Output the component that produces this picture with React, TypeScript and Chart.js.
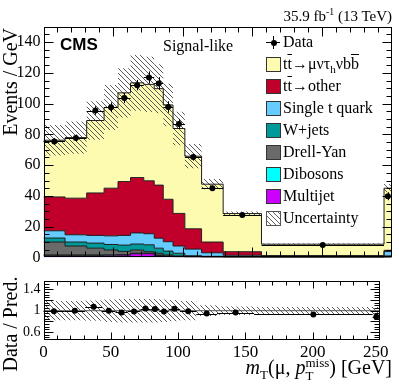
import React, { useEffect, useRef } from "react";
import { Chart, registerables } from "chart.js";
Chart.register(...registerables);

// ---------------- data ----------------
const BIN_EDGES = [0, 15.5, 31, 43.5, 53.5, 62.5, 72, 79.5, 86, 93, 101.5, 113.5, 129, 156.5, 244.5, 250];
const DATA = [75.4, 77.7, 95.5, 97.6, 103.6, 112, 117, 113.1, 97.8, 86.8, 65.2, 45, 27.5, 8, 39.8];
const DATA_ERR = [2.2, 2.2, 2.8, 3.2, 3.3, 3.4, 4.0, 4.1, 3.7, 3.2, 2.3, 1.7, 1.0, 0.3, 2.6];
const TT_SIGNAL = [36.9, 39.4, 47.1, 52.5, 57.7, 61.6, 62.7, 62.7, 61.3, 55.2, 47.2, 37.6, 24.8, 7.4, 40.4];
const TT_OTHER = [22.0, 23.8, 27.6, 31.0, 35.0, 36.0, 34.4, 34.5, 27.6, 21.2, 13.2, 7.0, 2.3, 0.6, 0.8];
const SINGLE_T = [4.7, 4.7, 5.0, 5.6, 6.3, 7.2, 7.2, 6.5, 6.1, 4.7, 4.3, 2.3, 0.9, 0.35, 2.8];
const WJETS = [2.6, 2.6, 3.3, 3.6, 4.1, 3.9, 4.5, 3.3, 2.5, 1.7, 0.5, 0.3, 0.2, 0.1, 0.6];
const DRELL_YAN = [8.4, 5.8, 4.4, 3.1, 2.1, 2.1, 1.0, 1.2, 0.7, 0.4, 0.2, 0.1, 0.1, 0.05, 0.2];
const DIBOSONS = [0.3, 0.3, 0.3, 0.3, 0.3, 0.3, 0.3, 0.3, 0.2, 0.2, 0.1, 0.1, 0.1, 0.05, 0.1];
const MULTIJET = [1.3, 1.3, 1.3, 1.4, 1.5, 2.4, 2.4, 1.2, 0.7, 0.4, 0.3, 0.2, 0.1, 0.05, 0.1];
const UNC_REL = [0.13, 0.135, 0.14, 0.15, 0.15, 0.16, 0.16, 0.145, 0.14, 0.13, 0.12, 0.07, 0.045, 0.05, 0.06];
const RATIO_UNC = [0.18, 0.18, 0.19, 0.21, 0.22, 0.22, 0.22, 0.22, 0.21, 0.2, 0.18, 0.1, 0.08, 0.07, 0.07];

const SERIES_NAMES = ["Multijet", "Dibosons", "Drell-Yan", "W+jets", "Single t quark", "tt→other", "tt→μντhνbb"];
const SERIES_COLORS = ["#cc00ff", "#00ffff", "#6a6a6a", "#009a9a", "#66ccff", "#c0002a", "#fdfbb0"];

const MAIN_Y_TICKS = [0, 20, 40, 60, 80, 100, 120, 140];
const RATIO_Y_TICKS = [0.6, 0.8, 1, 1.2, 1.4];
const X_TICKS = [0, 50, 100, 150, 200, 250];

const SERIF = '"Liberation Serif", "Times New Roman", serif';
const SANS = '"Liberation Sans", Arial, sans-serif';

// ---------------- helpers ----------------
function range(a: number, b: number, step: number) {
  const out: number[] = [];
  for (let v = a; v <= b + 1e-9; v += step) out.push(Math.round(v * 1000) / 1000);
  return out;
}
function steps(values: number[]) {
  return BIN_EDGES.map((e, i) => ({ x: e, y: values[Math.min(i, values.length - 1)] }));
}
function centers() {
  return BIN_EDGES.slice(0, -1).map((e, i) => (e + BIN_EDGES[i + 1]) / 2);
}
function makeHatch(size: number, color: string) {
  const c = document.createElement("canvas");
  c.width = size;
  c.height = size;
  const g = c.getContext("2d")!;
  g.strokeStyle = color;
  g.lineWidth = 1;
  for (let k = -1; k <= 1; k++) {
    g.beginPath();
    g.moveTo(k * size, 0);
    g.lineTo(k * size + size, size);
    g.stroke();
  }
  return g.createPattern(c, "repeat")!;
}

const errBars = {
  id: "errBars",
  afterDatasetsDraw(chart: any, _a: any, opts: any) {
    const { ctx, scales } = chart;
    const x = scales.x, y = scales.y;
    ctx.save();
    ctx.strokeStyle = "#000";
    ctx.lineWidth = 1;
    for (const p of opts.points || []) {
      const px = Math.round(x.getPixelForValue(p.x)) + 0.5;
      const py = Math.round(y.getPixelForValue(p.y)) + 0.5;
      ctx.beginPath();
      ctx.moveTo(x.getPixelForValue(p.xlo), py);
      ctx.lineTo(x.getPixelForValue(p.xhi), py);
      ctx.moveTo(px, y.getPixelForValue(p.ylo));
      ctx.lineTo(px, y.getPixelForValue(p.yhi));
      ctx.stroke();
    }
    ctx.restore();
  },
};

const rootFrame = {
  id: "rootFrame",
  afterDraw(chart: any, _a: any, o: any) {
    const { ctx, chartArea: ca, scales } = chart;
    const x = scales.x, y = scales.y;
    const L = Math.round(ca.left) + 0.5, R = Math.round(ca.right) - 0.5;
    const T = Math.round(ca.top) + 0.5, B = Math.round(ca.bottom) - 0.5;
    ctx.save();
    ctx.strokeStyle = "#000";
    ctx.lineWidth = 1;
    ctx.beginPath();
    const xt = (vals: number[], len: number) => {
      for (const v of vals) {
        const p = Math.round(x.getPixelForValue(v)) + 0.5;
        if (p < L - 0.1 || p > R + 0.1) continue;
        ctx.moveTo(p, B); ctx.lineTo(p, B - len);
        ctx.moveTo(p, T); ctx.lineTo(p, T + len);
      }
    };
    const yt = (vals: number[], len: number) => {
      for (const v of vals) {
        const p = Math.round(y.getPixelForValue(v)) + 0.5;
        if (p < T - 0.1 || p > B + 0.1) continue;
        ctx.moveTo(L, p); ctx.lineTo(L + len, p);
        ctx.moveTo(R, p); ctx.lineTo(R - len, p);
      }
    };
    xt(o.xMajor, o.xLen[0]);
    xt(o.xMinor, o.xLen[1]);
    yt(o.yMajor, o.yLen[0]);
    yt(o.yMinor, o.yLen[1]);
    ctx.stroke();
    ctx.strokeRect(L, T, R - L, B - T);
    ctx.restore();
  },
};

// ---------------- component ----------------
export default function App() {
  const mainRef = useRef<HTMLCanvasElement>(null);
  const ratioRef = useRef<HTMLCanvasElement>(null);

  useEffect(() => {
    const hatch = makeHatch(5, "#5a5a5a");
    const hatch2 = makeHatch(5, "#5a5a5a");
    const comps = [MULTIJET, DIBOSONS, DRELL_YAN, WJETS, SINGLE_T, TT_OTHER, TT_SIGNAL];
    const cum: number[][] = [];
    comps.forEach((c, k) => cum.push(c.map((v, i) => v + (k > 0 ? cum[k - 1][i] : 0))));
    const total = cum[cum.length - 1];
    const ctr = centers();

    const stackSets = [] as any[];
    for (let k = comps.length - 1; k >= 0; k--) {
      stackSets.push({
        label: SERIES_NAMES[k],
        data: steps(cum[k]),
        stepped: "before",
        borderColor: "#1e1e1e",
        borderWidth: 1,
        backgroundColor: SERIES_COLORS[k],
        pointRadius: 0,
        fill: k === 0 ? "origin" : "+1",
      });
    }

    const mainPoints = DATA.map((d, i) => ({
      x: ctr[i], y: d, xlo: BIN_EDGES[i], xhi: BIN_EDGES[i + 1], ylo: d - DATA_ERR[i], yhi: d + DATA_ERR[i],
    }));

    const yAxisBase = (ticks: number[], fontSize: number, min: number, max: number) => ({
      type: "linear",
      min,
      max,
      grid: { display: false, drawTicks: false },
      border: { display: false },
      ticks: { font: { family: SERIF, size: fontSize }, color: "#000", padding: 3, callback: (v: any) => String(v) },
      afterBuildTicks: (s: any) => { s.ticks = ticks.map((v) => ({ value: v })); },
      afterFit: (s: any) => { s.width = 43.5; },
    });

    const main = new Chart(mainRef.current!, {
      type: "line",
      data: {
        datasets: [
          { label: "Data", data: ctr.map((c, i) => ({ x: c, y: DATA[i] })), showLine: false, pointRadius: 3, pointBackgroundColor: "#000", pointBorderWidth: 0, fill: false },
          { label: "unc+", data: steps(total.map((t, i) => t * (1 + UNC_REL[i]))), stepped: "before", borderWidth: 0, pointRadius: 0, backgroundColor: hatch, fill: "+1" },
          { label: "unc-", data: steps(total.map((t, i) => t * (1 - UNC_REL[i]))), stepped: "before", borderWidth: 0, pointRadius: 0, fill: false },
          ...stackSets,
        ],
      },
      options: {
        responsive: false,
        devicePixelRatio: 1,
        animation: false,
        events: [],
        layout: { padding: { left: 0, right: 7.3, top: 26.7, bottom: 7.5 } },
        scales: {
          x: { type: "linear", min: 0, max: 250, display: false },
          y: yAxisBase(MAIN_Y_TICKS, 16, 0, 150) as any,
        },
        plugins: {
          legend: { display: false },
          tooltip: { enabled: false },
          filler: { drawTime: "beforeDatasetsDraw" },
          errBars: { points: mainPoints },
          rootFrame: {
            xMajor: X_TICKS, xMinor: range(0, 250, 10), xLen: [9, 5],
            yMajor: MAIN_Y_TICKS, yMinor: range(0, 150, 5), yLen: [9, 5],
          },
        } as any,
      },
      plugins: [errBars, rootFrame],
    } as any);

    const ratioVals = DATA.map((d, i) => d / total[i]);
    const ratioPoints = ratioVals.map((r, i) => ({
      x: ctr[i], y: r, xlo: BIN_EDGES[i], xhi: BIN_EDGES[i + 1],
      ylo: r - DATA_ERR[i] / total[i], yhi: r + DATA_ERR[i] / total[i],
    }));

    const ratio = new Chart(ratioRef.current!, {
      type: "line",
      data: {
        datasets: [
          { label: "ratio", data: ctr.map((c, i) => ({ x: c, y: ratioVals[i] })), showLine: false, pointRadius: 3, pointBackgroundColor: "#000", pointBorderWidth: 0, fill: false },
          { label: "one", data: [{ x: 0, y: 1 }, { x: 250, y: 1 }], borderColor: "#555", borderWidth: 1, pointRadius: 0, fill: false },
          { label: "band+", data: steps(RATIO_UNC.map((u) => 1 + u)), stepped: "before", borderWidth: 0, pointRadius: 0, backgroundColor: hatch2, fill: "+1" },
          { label: "band-", data: steps(RATIO_UNC.map((u) => 1 - u)), stepped: "before", borderWidth: 0, pointRadius: 0, fill: false },
        ],
      },
      options: {
        responsive: false,
        devicePixelRatio: 1,
        animation: false,
        events: [],
        layout: { padding: { left: 0, right: 7.3, top: 5, bottom: 0 } },
        scales: {
          x: {
            type: "linear",
            min: 0,
            max: 250,
            grid: { display: false, drawTicks: false },
            border: { display: false },
            ticks: {
              font: { family: SERIF, size: 17 },
              color: "#000",
              padding: 2,
              // last label kept inside the frame (shifted left by a trailing figure space)
              callback: (v: any) => (v === 250 ? "250\u2007" : String(v)),
            },
            afterBuildTicks: (s: any) => { s.ticks = X_TICKS.map((v) => ({ value: v })); },
            afterFit: (s: any) => { s.height = 45; },
          },
          y: yAxisBase(RATIO_Y_TICKS, 14, 0.45, 1.55) as any,
        },
        plugins: {
          legend: { display: false },
          tooltip: { enabled: false },
          filler: { drawTime: "beforeDatasetsDraw" },
          errBars: { points: ratioPoints },
          rootFrame: {
            xMajor: X_TICKS, xMinor: range(0, 250, 10), xLen: [7, 4],
            yMajor: RATIO_Y_TICKS, yMinor: range(0.45, 1.55, 0.05), yLen: [9, 5],
          },
        } as any,
      },
      plugins: [errBars, rootFrame],
    } as any);

    return () => {
      main.destroy();
      ratio.destroy();
    };
  }, []);

  const ov = { textDecoration: "overline" } as React.CSSProperties;
  const legendRows: { label: React.ReactNode; kind: string; color?: string }[] = [
    { label: "Data", kind: "data" },
    { label: <>t<span style={ov}>t</span>→μντ<sub style={{ fontSize: "70%", lineHeight: 0 }}>h</sub>νb<span style={ov}>b</span></>, kind: "box", color: SERIES_COLORS[6] },
    { label: <>t<span style={ov}>t</span>→other</>, kind: "box", color: SERIES_COLORS[5] },
    { label: SERIES_NAMES[4], kind: "box", color: SERIES_COLORS[4] },
    { label: SERIES_NAMES[3], kind: "box", color: SERIES_COLORS[3] },
    { label: SERIES_NAMES[2], kind: "box", color: SERIES_COLORS[2] },
    { label: SERIES_NAMES[1], kind: "box", color: SERIES_COLORS[1] },
    { label: SERIES_NAMES[0], kind: "box", color: SERIES_COLORS[0] },
    { label: "Uncertainty", kind: "hatch" },
  ];

  return (
    <div style={{ position: "fixed", left: 0, top: 0, width: 399, height: 385, background: "#fff", overflow: "hidden" }}>
      <canvas ref={mainRef} width={399} height={270} style={{ position: "absolute", left: 0, top: 0, width: 399, height: 270 }} />
      <canvas ref={ratioRef} width={399} height={115} style={{ position: "absolute", left: 0, top: 270, width: 399, height: 115 }} />

      <div style={{ position: "absolute", right: 7, top: 8, fontFamily: SERIF, fontSize: 15, lineHeight: "16px", whiteSpace: "nowrap" }}>
        35.9 fb<sup style={{ fontSize: "65%", lineHeight: 0 }}>-1</sup> (13 TeV)
      </div>
      <div style={{ position: "absolute", left: 60, top: 36, fontFamily: SANS, fontWeight: "bold", fontSize: 17, lineHeight: "18px" }}>CMS</div>
      <div style={{ position: "absolute", left: 163, top: 37, fontFamily: SERIF, fontSize: 16, lineHeight: "17px", whiteSpace: "nowrap" }}>Signal-like</div>

      {legendRows.map((r, i) => {
        const cy = 42 + 22 * i;
        return (
          <React.Fragment key={i}>
            {r.kind === "data" && (
              <>
                <div style={{ position: "absolute", left: 266, top: cy, width: 14, height: 1, background: "#000" }} />
                <div style={{ position: "absolute", left: 273, top: cy - 6, width: 1, height: 13, background: "#000" }} />
                <div style={{ position: "absolute", left: 270.5, top: cy - 2.5, width: 6, height: 6, borderRadius: 3, background: "#000" }} />
              </>
            )}
            {r.kind === "box" && (
              <div style={{ position: "absolute", left: 266, top: cy - 7, width: 13, height: 13, background: r.color, border: "1px solid #333" }} />
            )}
            {r.kind === "hatch" && (
              <div style={{ position: "absolute", left: 266, top: cy - 7, width: 13, height: 13, border: "1px solid #555", background: "repeating-linear-gradient(45deg, #fff 0px, #fff 2.6px, #666 2.6px, #666 3.5px)" }} />
            )}
            <div style={{ position: "absolute", left: 283, top: cy - 9, fontFamily: SERIF, fontSize: 16, lineHeight: "18px", whiteSpace: "nowrap" }}>{r.label}</div>
          </React.Fragment>
        );
      })}

      <div style={{ position: "absolute", left: -1, top: 0, width: 140, height: 22, transform: "translate(0px, 168px) rotate(-90deg)", transformOrigin: "left top", textAlign: "right", fontFamily: SERIF, fontSize: 20, lineHeight: "22px", whiteSpace: "nowrap" }}>
        Events / GeV
      </div>
      <div style={{ position: "absolute", left: -1, top: 0, width: 120, height: 22, transform: "translate(0px, 384px) rotate(-90deg)", transformOrigin: "left top", textAlign: "center", fontFamily: SERIF, fontSize: 20, lineHeight: "22px", whiteSpace: "nowrap" }}>
        Data / Pred.
      </div>

      <div style={{ position: "absolute", right: 7, top: 356, fontFamily: SERIF, fontSize: 20, lineHeight: "22px", whiteSpace: "nowrap" }}>
        <i>m</i><sub style={{ fontSize: 13, lineHeight: 0 }}>T</sub>(μ, <i>p</i>
        <span style={{ display: "inline-flex", flexDirection: "column", verticalAlign: "middle", fontSize: 13, lineHeight: "13px", alignItems: "flex-start" }}>
          <span>miss</span>
          <span>T</span>
        </span>
        ) [GeV]
      </div>
    </div>
  );
}
